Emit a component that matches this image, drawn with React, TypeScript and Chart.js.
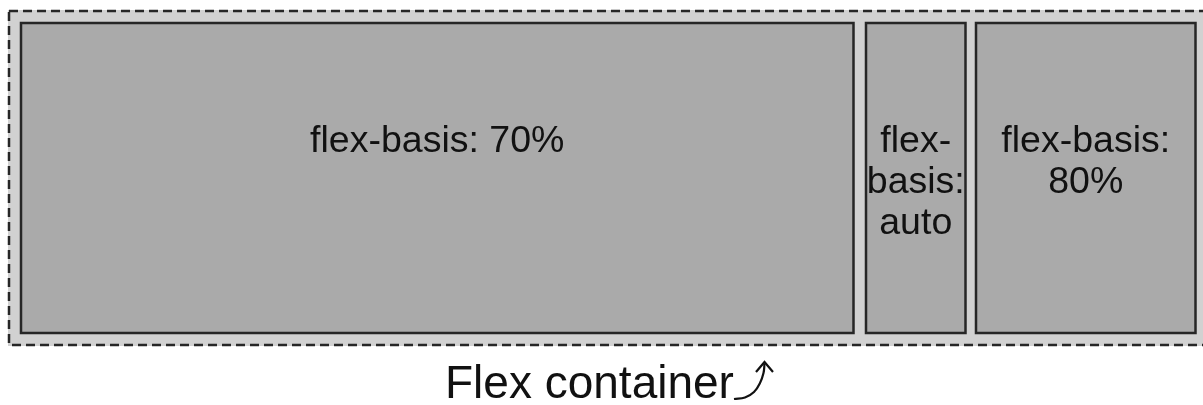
import React, { useEffect, useRef } from "react";
import { Chart, registerables } from "chart.js";

Chart.register(...registerables);

// Diagram data (values in the diagram's own pixel-unit scale)
const boxLabels: string[][] = [["flex-basis: 70%"], ["flex-", "basis:", "auto"], ["flex-basis:", "80%"]];
const boxLeft = [21, 866, 976];
const boxRight = [853.5, 965.5, 1195.5];
const boxTop = [23, 23, 23];
const boxBottom = [333, 333, 333];
const containerLeft = 9;
const containerRight = 1206;
const containerTop = 11;
const containerBottom = 345;
const captionText = "Flex container";
const arrowCurveX = [734, 745, 754, 760, 763.5, 764.5];
const arrowCurveY = [399, 397.5, 392, 383, 373, 364];
const arrowHeadX = [756, 764.5, 773];
const arrowHeadY = [372, 362, 372];

const FONT = "'Liberation Sans', Arial, Helvetica, sans-serif";

export default function App() {
  const ref = useRef<HTMLCanvasElement>(null);
  useEffect(() => {
    if (!ref.current) return;
    const datasets: any[] = [];
    // container fill
    datasets.push({
      data: [
        { x: containerLeft - 1, y: containerTop - 1 },
        { x: containerRight + 5, y: containerTop - 1 },
      ],
      fill: { value: containerBottom + 1 },
      backgroundColor: "#d1d1d1",
      borderWidth: 0,
      pointRadius: 0,
    });
    // container dashed border
    datasets.push({
      data: [
        { x: containerLeft, y: containerTop },
        { x: containerRight, y: containerTop },
        { x: containerRight, y: containerBottom },
        { x: containerLeft, y: containerBottom },
        { x: containerLeft, y: containerTop },
      ],
      fill: false,
      borderColor: "#262626",
      borderWidth: 2.5,
      borderDash: [9, 5],
      pointRadius: 0,
    });
    boxLeft.forEach((l, i) => {
      datasets.push({
        data: [
          { x: l, y: boxTop[i] },
          { x: boxRight[i], y: boxTop[i] },
        ],
        fill: { value: boxBottom[i] },
        backgroundColor: "#aaaaaa",
        borderWidth: 0,
        pointRadius: 0,
      });
      datasets.push({
        data: [
          { x: l, y: boxTop[i] },
          { x: boxRight[i], y: boxTop[i] },
          { x: boxRight[i], y: boxBottom[i] },
          { x: l, y: boxBottom[i] },
          { x: l, y: boxTop[i] - 1.25 },
        ],
        fill: false,
        borderColor: "#262626",
        borderWidth: 2.5,
        pointRadius: 0,
      });
    });
    datasets.push({
      data: arrowCurveX.map((x, i) => ({ x, y: arrowCurveY[i] })),
      fill: false,
      borderColor: "#111",
      borderWidth: 2.2,
      tension: 0.4,
      pointRadius: 0,
    });
    datasets.push({
      data: arrowHeadX.map((x, i) => ({ x, y: arrowHeadY[i] })),
      fill: false,
      borderColor: "#111",
      borderWidth: 2.2,
      pointRadius: 0,
    });
    // later datasets must paint on top
    datasets.forEach((d, i) => {
      d.order = datasets.length - i;
    });

    const textPlugin = {
      id: "diagramText",
      afterDatasetsDraw(chart: any) {
        const { ctx } = chart;
        const xs = chart.scales.x;
        const ys = chart.scales.y;
        ctx.save();
        ctx.fillStyle = "#111";
        ctx.textBaseline = "alphabetic";
        ctx.textAlign = "center";
        ctx.font = `37.5px ${FONT}`;
        boxLabels.forEach((lines, i) => {
          const cx = xs.getPixelForValue((boxLeft[i] + boxRight[i]) / 2);
          lines.forEach((t, j) => {
            ctx.fillText(t, cx, ys.getPixelForValue(152 + j * 41));
          });
        });
        ctx.font = `46px ${FONT}`;
        ctx.textAlign = "left";
        ctx.fillText(captionText, xs.getPixelForValue(445), ys.getPixelForValue(398));
        ctx.restore();
      },
    };

    const chart = new Chart(ref.current, {
      type: "line",
      data: { datasets },
      options: {
        animation: false,
        responsive: true,
        maintainAspectRatio: false,
        layout: { padding: 0 },
        scales: {
          x: { type: "linear", display: false, min: 0, max: 1203 },
          y: { type: "linear", display: false, min: 0, max: 405, reverse: true },
        },
        plugins: { legend: { display: false }, tooltip: { enabled: false } },
        elements: { line: { borderCapStyle: "butt" } },
      } as any,
      plugins: [textPlugin],
    });
    return () => chart.destroy();
  }, []);
  return (
    <div style={{ position: "fixed", left: 0, top: 0, width: 1203, height: 405, background: "#fff" }}>
      <canvas ref={ref} />
    </div>
  );
}
